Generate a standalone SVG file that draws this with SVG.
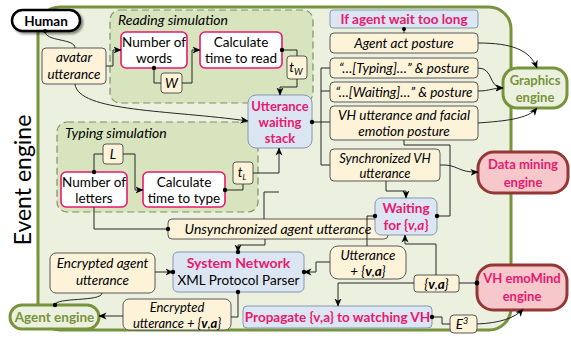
<svg xmlns="http://www.w3.org/2000/svg" width="571" height="340" viewBox="0 0 571 340">
<defs>
<marker id="ah" viewBox="0 0 8 8" refX="7.5" refY="4" markerWidth="8" markerHeight="8" markerUnits="userSpaceOnUse" orient="auto">
<path d="M0,0.5 L8,4 L0,7.5 L2.2,4 z" fill="#000"/>
</marker>
<filter id="sh" x="-20%" y="-20%" width="150%" height="160%">
<feDropShadow dx="2" dy="2" stdDeviation="1.2" flood-color="#000" flood-opacity="0.45"/>
</filter>
</defs>
<style>
text{font-family:Lato,"Open Sans","Liberation Sans",sans-serif;font-size:13.5px;fill:#000;text-anchor:middle}
.it{font-style:italic}
.pk{fill:#e8196f;font-weight:bold}
.gn{fill:#77933c;font-weight:bold}
.b{font-weight:bold}
.tan{fill:#fdf3d9;stroke:#595959;stroke-width:1}
.blue{fill:#dce6f2;stroke:#8497b0;stroke-width:1}
.pinkbox{fill:#fff;stroke:#e8196f;stroke-width:1.6}
.sim{fill:#d7e4bd;stroke:#7f8f6a;stroke-width:1.2;stroke-dasharray:7,4}
.eng{fill:#ebf1de;stroke:#77933c;stroke-width:3}
.red{fill:#f6c8cb;stroke:#953735;stroke-width:3}
.c{fill:none;stroke:#262626;stroke-width:1}
.ca{fill:none;stroke:#262626;stroke-width:1;marker-end:url(#ah)}
.dot{fill:#000}
</style>

<g id="event-engine">
<rect x="38" y="7" width="473" height="323" rx="22" fill="#ebf1de" stroke="#77933c" stroke-width="3"/>
<text transform="translate(31,180) rotate(-90)" style="font-size:23px">Event engine</text>
</g>

<g id="reading-simulation">
<rect class="sim" x="110" y="10" width="203" height="93" rx="10"/>
<text class="it" x="118" y="25" style="text-anchor:start;font-size:14px">Reading simulation</text>
</g>

<g id="typing-simulation">
<rect class="sim" x="57" y="122" width="201" height="90" rx="10"/>
<text class="it" x="65" y="138" style="text-anchor:start;font-size:14px">Typing simulation</text>
</g>

<g id="human">
<rect x="12" y="10" width="68" height="21" rx="10.5" fill="#fff" stroke="#000" stroke-width="2.5" filter="url(#sh)"/>
<text class="b" x="46" y="25.5">Human</text>
</g>

<g id="avatar-utterance">
<rect class="tan" x="42" y="48" width="64" height="36" rx="4"/>
<text class="it" x="74" y="62">avatar</text>
<text class="it" x="74" y="79">utterance</text>
</g>

<g id="number-of-words">
<rect class="pinkbox" x="121" y="32" width="66" height="36" rx="5"/>
<text x="154" y="47">Number of</text>
<text x="154" y="63">words</text>
</g>

<g id="calc-read">
<rect class="pinkbox" x="200" y="32" width="82" height="36" rx="5"/>
<text x="241" y="47">Calculate</text>
<text x="241" y="63">time to read</text>
</g>

<g id="w">
<rect class="tan" x="161" y="73" width="21" height="20" rx="3"/>
<text class="it" x="171.5" y="88">W</text>
</g>

<g id="tw">
<rect class="tan" x="287" y="56" width="20" height="23" rx="3"/>
<text class="it" x="296" y="72">t<tspan style="font-size:9px" dy="3">W</tspan></text>
</g>

<g id="utterance-waiting-stack">
<rect class="blue" x="248" y="95" width="64" height="53" rx="8"/>
<text class="pk" x="280" y="111" style="font-size:13px">Utterance</text>
<text class="pk" x="280" y="127" style="font-size:13px">waiting</text>
<text class="pk" x="280" y="143" style="font-size:13px">stack</text>
</g>

<g id="l">
<rect class="tan" x="103" y="144" width="20" height="20" rx="3"/>
<text class="it" x="113" y="159">L</text>
</g>

<g id="number-of-letters">
<rect class="pinkbox" x="61" y="172" width="66" height="35" rx="5"/>
<text x="94" y="187">Number of</text>
<text x="94" y="203">letters</text>
</g>

<g id="calc-type">
<rect class="pinkbox" x="143" y="172" width="82" height="35" rx="5"/>
<text x="184" y="187">Calculate</text>
<text x="184" y="203">time to type</text>
</g>

<g id="tl">
<rect class="tan" x="233" y="162" width="20" height="22" rx="3"/>
<text class="it" x="242" y="177">t<tspan style="font-size:8px" dy="3">L</tspan></text>
</g>

<g id="unsync">
<rect class="tan" x="168" y="219" width="220" height="20" rx="4"/>
<text class="it" x="278" y="234" style="font-size:14px">Unsynchronized agent utterance</text>
</g>

<g id="encrypted-agent">
<rect class="tan" x="50" y="253" width="105" height="40" rx="6"/>
<text class="it" x="102.5" y="268">Encrypted agent</text>
<text class="it" x="102.5" y="285">utterance</text>
</g>

<g id="system-network">
<rect class="blue" x="173" y="252" width="131" height="40" rx="5"/>
<text class="pk" x="238.5" y="268" style="font-size:14px">System Network</text>
<text x="238.5" y="285">XML Protocol Parser</text>
</g>

<g id="agent-engine">
<rect class="eng" x="10" y="305" width="89" height="24" rx="12"/>
<text class="gn" x="54.5" y="322">Agent engine</text>
</g>

<g id="encrypted-utt-va">
<rect class="tan" x="123" y="299" width="108" height="31" rx="6"/>
<text class="it" x="177" y="312" style="font-size:13px">Encrypted</text>
<text class="it" x="177" y="327.5" style="font-size:13px">utterance + {<tspan class="b">v</tspan>,<tspan class="b">a</tspan>}</text>
</g>

<g id="propagate">
<rect class="blue" x="243" y="306" width="189" height="22" rx="4"/>
<text class="pk" x="337.5" y="322">Propagate {v,a} to watching VH</text>
</g>

<g id="e3">
<rect class="tan" x="450" y="315" width="27" height="18" rx="4"/>
<text class="it" x="462" y="329">E<tspan style="font-size:9px" dy="-5">3</tspan></text>
</g>

<g id="va">
<rect class="tan" x="414" y="275" width="45" height="17" rx="3"/>
<text class="it" x="436.5" y="288.5">{<tspan class="b">v</tspan>,<tspan class="b">a</tspan>}</text>
</g>

<g id="utterance-va">
<rect class="tan" x="330" y="246" width="76" height="33" rx="8"/>
<text class="it" x="368" y="260">Utterance</text>
<text class="it" x="368" y="276">+ {<tspan class="b">v</tspan>,<tspan class="b">a</tspan>}</text>
</g>

<g id="waiting-va">
<rect class="blue" x="375" y="198" width="62" height="37" rx="6"/>
<text class="pk" x="406" y="213">Waiting</text>
<text class="pk" x="406" y="230">for {<tspan class="it">v,a</tspan>}</text>
</g>

<g id="emomind">
<rect class="red" x="477" y="265" width="90" height="45" rx="16"/>
<text class="pk" x="522" y="283" style="font-size:13px">VH emoMind</text>
<text class="pk" x="522" y="301" style="font-size:13px">engine</text>
</g>

<g id="data-mining">
<rect class="red" x="478" y="152" width="90" height="41" rx="16"/>
<text class="pk" x="523" y="169" style="font-size:13px">Data mining</text>
<text class="pk" x="523" y="187" style="font-size:13px">engine</text>
</g>

<g id="graphics-engine">
<rect class="eng" x="503" y="68" width="64" height="40" rx="14"/>
<text class="gn" x="535" y="85" style="font-size:13px">Graphics</text>
<text class="gn" x="535" y="102" style="font-size:13px">engine</text>
</g>

<g id="wait-too-long">
<rect class="blue" x="330" y="10" width="148" height="18" rx="3"/>
<text class="pk" x="404" y="24">If agent wait too long</text>
</g>

<g id="agent-act">
<rect class="tan" x="330" y="33" width="148" height="20" rx="4"/>
<text class="it" x="404" y="48">Agent act posture</text>
</g>

<g id="typing-posture">
<rect class="tan" x="330" y="58" width="148" height="20" rx="4"/>
<text class="it" x="404" y="73">“…[Typing]…” &amp; posture</text>
</g>

<g id="waiting-posture">
<rect class="tan" x="330" y="82" width="148" height="20" rx="4"/>
<text class="it" x="404" y="97">“…[Waiting]…” &amp; posture</text>
</g>

<g id="vh-facial">
<rect class="tan" x="330" y="106" width="148" height="34" rx="4"/>
<text class="it" x="404" y="120">VH utterance and facial</text>
<text class="it" x="404" y="136">emotion posture</text>
</g>

<g id="sync-vh">
<rect class="tan" x="330" y="149" width="110" height="32" rx="4"/>
<text class="it" x="385" y="162.5" style="font-size:13px">Synchronized VH</text>
<text class="it" x="385" y="178" style="font-size:13px">utterance</text>
</g>

<g id="connectors">
<path class="c" d="M45,31 C45,42 75,38 75,48"/>
<circle class="dot" cx="45" cy="31" r="2"/>
<path class="ca" d="M106,66 H113 V50 H121"/>
<path class="c" d="M154,68 V83 H161"/>
<circle class="dot" cx="154" cy="68" r="2.2"/>
<path class="ca" d="M182,83 H192 V50 H200"/>
<path class="c" d="M282,50 H297 V56"/>
<circle class="dot" cx="282" cy="50" r="2.2"/>
<path class="ca" d="M297,79 V87 H280 V95"/>
<path class="ca" d="M75,84 C78,112 170,110 248,121"/>
<path class="c" d="M94,172 V154 H103"/>
<circle class="dot" cx="94" cy="172" r="2.2"/>
<path class="ca" d="M123,154 H135 V190 H143"/>
<path class="c" d="M225,190 H243 V184"/>
<circle class="dot" cx="225" cy="190" r="2.2"/>
<path class="ca" d="M253,173 H279 V148"/>
<path class="c" d="M264,219 V192 H279"/>
<path class="c" d="M94,207 V229 H168"/>
<circle class="dot" cx="168" cy="229" r="2.2"/>
<path class="ca" d="M265,239 V245 H238 V252"/>
<circle class="dot" cx="238" cy="252" r="2.2"/>
<path class="ca" d="M155,272 H173"/>
<circle class="dot" cx="173" cy="272" r="2.2"/>
<path class="c" d="M238,292 V317 H231"/>
<circle class="dot" cx="238" cy="292" r="2.2"/>
<path class="ca" d="M123,316 H99"/>
<path class="c" d="M102,293 C102,302 55,297 55,305"/>
<circle class="dot" cx="55" cy="305" r="2.2"/>
<path class="ca" d="M330,262 H316 V272 H304"/>
<circle class="dot" cx="304" cy="272" r="2.2"/>
<path class="c" d="M375,216 H367 V246"/>
<circle class="dot" cx="375" cy="216" r="2.2"/>
<path class="ca" d="M436,275 V244 H405 V235"/>
<path class="ca" d="M414,283 H338 V306"/>
<path class="c" d="M459,283 H477"/>
<circle class="dot" cx="477" cy="283" r="2.4"/>
<path class="c" d="M432,317 H442 V324 H450"/>
<circle class="dot" cx="432" cy="317" r="2.2"/>
<path class="ca" d="M477,324 C500,323 515,318 523,309"/>
<path class="ca" d="M386,181 V191 H406 V198"/>
<path class="ca" d="M440,165 C458,164 458,173 478,172"/>
<path class="c" d="M404,140 V145 H450 V216 H437"/>
<circle class="dot" cx="437" cy="216" r="2.2"/>
<path class="c" d="M312,122 H330 M321,68 V165 M321,68 H330 M321,91 H330 M321,165 H330"/>
<circle class="dot" cx="312" cy="122" r="2.2"/>
<path class="c" d="M404,28 V33"/>
<circle class="dot" cx="404" cy="29" r="2"/>
<path class="ca" d="M478,43 C512,43 530,50 537,68"/>
<path class="ca" d="M478,68 C494,68 488,88 503,88"/>
<path class="ca" d="M478,91 C490,91 492,88 503,88"/>
<path class="ca" d="M478,123 C505,121 528,119 537,108"/>
</g>
</svg>
